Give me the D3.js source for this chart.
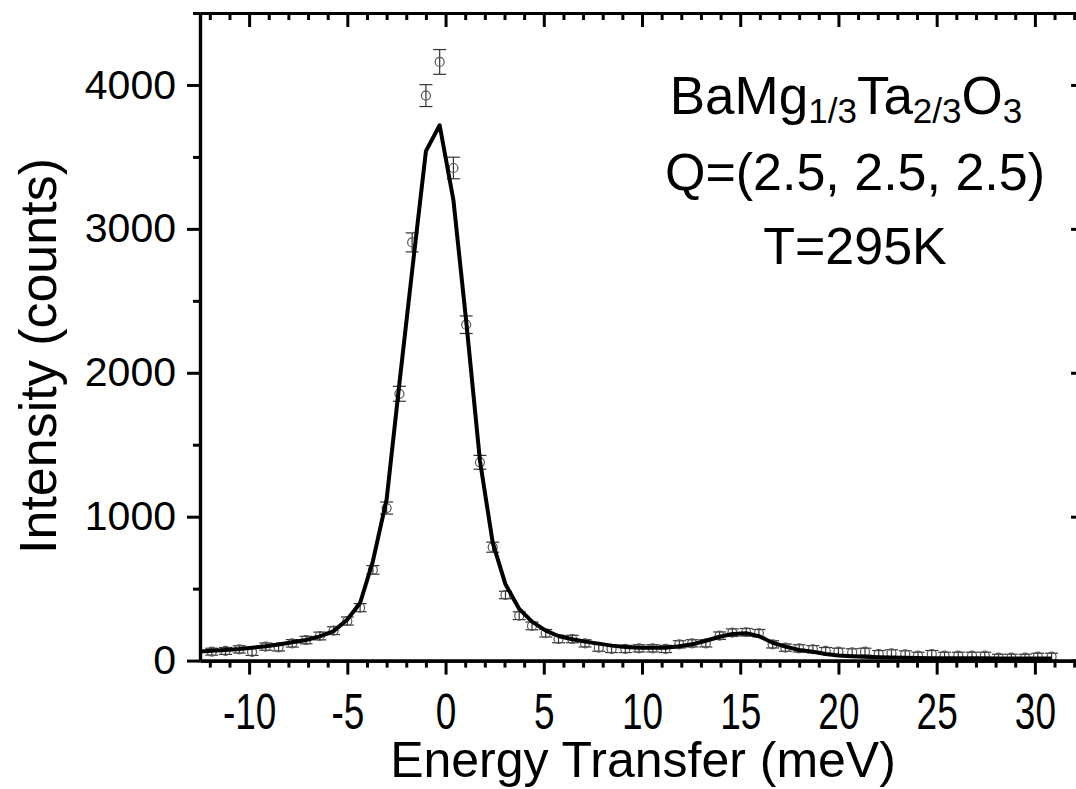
<!DOCTYPE html>
<html>
<head>
<meta charset="utf-8">
<script src="https://cdn.jsdelivr.net/npm/d3@7"></script>
<style>
  html, body { margin: 0; padding: 0; background: #fff; }
  svg { display: block; font-family: 'Liberation Sans', Arial, sans-serif; }
</style>
</head>
<body>
<svg id="chart" width="1076" height="789"></svg>
<script>
// measured points (energy in meV, intensity in counts)
const energy = [
  -11.9, -11.2, -10.5, -9.85, -9.15, -8.5, -7.8, -7.1, -6.4, -5.7,
  -5.0, -4.35, -3.7, -3.0, -2.35, -1.7, -1.0, -0.3, 0.4, 1.05,
  1.75, 2.4, 3.05, 3.75, 4.4, 5.1, 5.75, 6.45, 7.1, 7.8,
  8.45, 9.15, 9.85, 10.55, 11.2, 11.9, 12.55, 13.25, 13.95, 14.6,
  15.3, 15.95, 16.65, 17.3, 18.0, 18.7, 19.35, 20.0, 20.7, 21.35,
  22.05, 22.7, 23.4, 24.05, 24.75, 25.4, 26.1, 26.8, 27.45, 28.15,
  28.8, 29.5, 30.15, 30.85
];
const counts = [
  62, 67, 78, 60, 97, 92, 120, 143, 171, 208,
  275, 368, 630, 1060, 1854, 2906, 3926, 4160, 3423, 2334,
  1378, 788, 456, 312, 241, 190, 150, 150, 120, 90,
  81, 81, 85, 85, 81, 113, 120, 120, 173, 194,
  197, 190, 113, 90, 85, 79, 67, 62, 58, 62,
  46, 51, 44, 34, 46, 34, 34, 34, 34, 20,
  20, 20, 27, 27
];
const errors = [
  24, 24, 25, 24, 25, 25, 26, 26, 27, 27,
  28, 28, 30, 42, 52, 66, 76, 86, 75, 61,
  48, 35, 26, 27, 27, 26, 26, 26, 25, 25,
  25, 25, 25, 25, 25, 25, 25, 25, 26, 26,
  26, 26, 25, 25, 25, 25, 24, 24, 24, 24,
  24, 24, 24, 24, 24, 24, 24, 24, 24, 24,
  24, 24, 24, 24
];

// fitted curve
const fitEnergy = [
  -12.5, -11.9, -11.2, -10.5, -9.85, -9.15, -8.5, -7.8, -7.1, -6.4,
  -5.7, -5.0, -4.35, -3.7, -3.0, -2.35, -1.7, -1.0, -0.3, 0.4,
  1.05, 1.75, 2.4, 3.05, 3.75, 4.4, 5.1, 5.75, 6.45, 7.1,
  7.8, 8.45, 9.15, 9.85, 10.55, 11.2, 11.9, 12.55, 13.25, 13.95,
  14.6, 15.3, 15.95, 16.65, 17.3, 18.0, 18.7, 19.35, 20.0, 20.7,
  21.35, 22.05, 22.7, 23.4, 24.05, 24.75, 25.4, 26.1, 26.8, 27.45,
  28.15, 28.8, 29.5, 30.15, 30.85
];
const fitCounts = [
  64, 68, 74, 81, 90, 100, 112, 127, 143, 168,
  205, 285, 400, 690, 1120, 1925, 2710, 3540, 3720, 3200,
  2360, 1390, 820, 530, 359, 271, 208, 171, 148, 132,
  118, 104, 95, 90, 90, 90, 100, 113, 138, 166,
  185, 190, 170, 124, 97, 74, 62, 46, 35, 30,
  26, 23, 21, 19, 18, 17, 17, 16, 16, 16,
  15, 15, 15, 15, 15
];

const xMajor = [-10, -5, 0, 5, 10, 15, 20, 25, 30];
const xMinor = d3.range(-12, 33, 1).filter((v) => v % 5 !== 0);
const yMajor = [0, 1000, 2000, 3000, 4000];
const yMinor = [500, 1500, 2500, 3500, 4500];

const svg = d3.select('#chart');

const frame = { left: 200, top: 13, right: 1084, bottom: 660.6 };
const x = d3.scaleLinear().domain([-12.5, 32.5]).range([frame.left, frame.right]);
const y = d3.scaleLinear().domain([0, 4500]).range([frame.bottom, frame.top]);

svg.append('rect').attr('width', 1076).attr('height', 789).attr('fill', '#fff');

svg.append('defs')
  .append('clipPath')
  .attr('id', 'plotClip')
  .append('rect')
  .attr('x', frame.left)
  .attr('y', frame.top)
  .attr('width', frame.right - frame.left)
  .attr('height', frame.bottom - frame.top);

// data points with error bars
const pts = energy.map((e, i) => ({ e, c: counts[i], err: errors[i] }));
const pointGroup = svg.append('g').attr('class', 'points');
const capHalf = 6.5;

const pt = pointGroup.selectAll('g').data(pts).enter().append('g')
  .attr('transform', (d) => `translate(${x(d.e)},0)`);

pt.append('line')
  .attr('x1', 0).attr('x2', 0)
  .attr('y1', (d) => y(d.c + d.err)).attr('y2', (d) => y(d.c - d.err))
  .attr('stroke', '#333').attr('stroke-width', 1.2);
pt.append('line')
  .attr('x1', -capHalf).attr('x2', capHalf)
  .attr('y1', (d) => y(d.c + d.err)).attr('y2', (d) => y(d.c + d.err))
  .attr('stroke', '#333').attr('stroke-width', 1.2);
pt.append('line')
  .attr('x1', -capHalf).attr('x2', capHalf)
  .attr('y1', (d) => y(d.c - d.err)).attr('y2', (d) => y(d.c - d.err))
  .attr('stroke', '#333').attr('stroke-width', 1.2);
pt.append('circle')
  .attr('cx', 0).attr('cy', (d) => y(d.c)).attr('r', 4.5)
  .attr('fill', 'none').attr('stroke', '#555').attr('stroke-width', 1.2);

// fit line
const fit = fitEnergy.map((e, i) => ({ e, c: fitCounts[i] }));
svg.append('path')
  .datum(fit)
  .attr('clip-path', 'url(#plotClip)')
  .attr('fill', 'none')
  .attr('stroke', '#000')
  .attr('stroke-width', 4)
  .attr('stroke-linejoin', 'round')
  .attr('d', d3.line().x((d) => x(d.e)).y((d) => y(d.c)));

// axes
function styleAxis(g) {
  g.select('.domain').attr('stroke', '#000').attr('stroke-width', 3.2);
  g.selectAll('.tick line').attr('stroke', '#000').attr('stroke-width', 3);
}

const bottomMinor = svg.append('g').attr('transform', `translate(0,${frame.bottom})`);
bottomMinor.call(d3.axisBottom(x).tickValues(xMinor).tickSize(7).tickSizeOuter(0).tickFormat(''));
styleAxis(bottomMinor);
const bottomMajor = svg.append('g').attr('transform', `translate(0,${frame.bottom})`);
bottomMajor.call(d3.axisBottom(x).tickValues(xMajor).tickSize(14).tickSizeOuter(0).tickPadding(19)
  .tickFormat((d) => String(d)));
styleAxis(bottomMajor);
bottomMajor.selectAll('.tick text')
  .attr('fill', '#000')
  .attr('font-size', 50)
  .attr('font-family', "'Liberation Sans', Arial, sans-serif")
  .attr('transform', 'scale(0.74,1)');

const topMinor = svg.append('g').attr('transform', `translate(0,${frame.top})`);
topMinor.call(d3.axisTop(x).tickValues(xMinor).tickSize(-7).tickSizeOuter(0).tickFormat(''));
styleAxis(topMinor);
const topMajor = svg.append('g').attr('transform', `translate(0,${frame.top})`);
topMajor.call(d3.axisTop(x).tickValues(xMajor).tickSize(-14).tickSizeOuter(0).tickFormat(''));
styleAxis(topMajor);

const leftMinor = svg.append('g').attr('transform', `translate(${frame.left},0)`);
leftMinor.call(d3.axisLeft(y).tickValues(yMinor).tickSize(7).tickSizeOuter(0).tickFormat(''));
styleAxis(leftMinor);
const leftMajor = svg.append('g').attr('transform', `translate(${frame.left},0)`);
leftMajor.call(d3.axisLeft(y).tickValues(yMajor).tickSize(13).tickSizeOuter(0).tickPadding(11).tickFormat(d3.format('d')));
styleAxis(leftMajor);
leftMajor.selectAll('.tick text')
  .attr('fill', '#000')
  .attr('font-size', 41)
  .attr('font-family', "'Liberation Sans', Arial, sans-serif");

const rightMinor = svg.append('g').attr('transform', `translate(${frame.right},0)`);
rightMinor.call(d3.axisRight(y).tickValues(yMinor).tickSize(-7).tickSizeOuter(0).tickFormat(''));
styleAxis(rightMinor);
const rightMajor = svg.append('g').attr('transform', `translate(${frame.right},0)`);
rightMajor.call(d3.axisRight(y).tickValues(yMajor).tickSize(-13).tickSizeOuter(0).tickFormat(''));
styleAxis(rightMajor);

// axis titles
svg.append('text')
  .attr('x', 643).attr('y', 777)
  .attr('text-anchor', 'middle')
  .attr('font-size', 50)
  .text('Energy Transfer (meV)');

svg.append('text')
  .attr('transform', 'translate(56,356) rotate(-90)')
  .attr('text-anchor', 'middle')
  .attr('font-size', 52)
  .text('Intensity (counts)');

// annotation
const note = svg.append('g').attr('font-size', 52).attr('text-anchor', 'middle');
const formula = note.append('text').attr('x', 846).attr('y', 114).attr('font-size', 53);
formula.append('tspan').text('BaMg');
formula.append('tspan').attr('font-size', 35).attr('dy', 9).text('1/3');
formula.append('tspan').attr('dy', -9).text('Ta');
formula.append('tspan').attr('font-size', 35).attr('dy', 9).text('2/3');
formula.append('tspan').attr('dy', -9).text('O');
formula.append('tspan').attr('font-size', 35).attr('dy', 9).text('3');

note.append('text').attr('x', 855).attr('y', 190).text('Q=(2.5, 2.5, 2.5)');
note.append('text').attr('x', 855).attr('y', 264).text('T=295K');
</script>
</body>
</html>
